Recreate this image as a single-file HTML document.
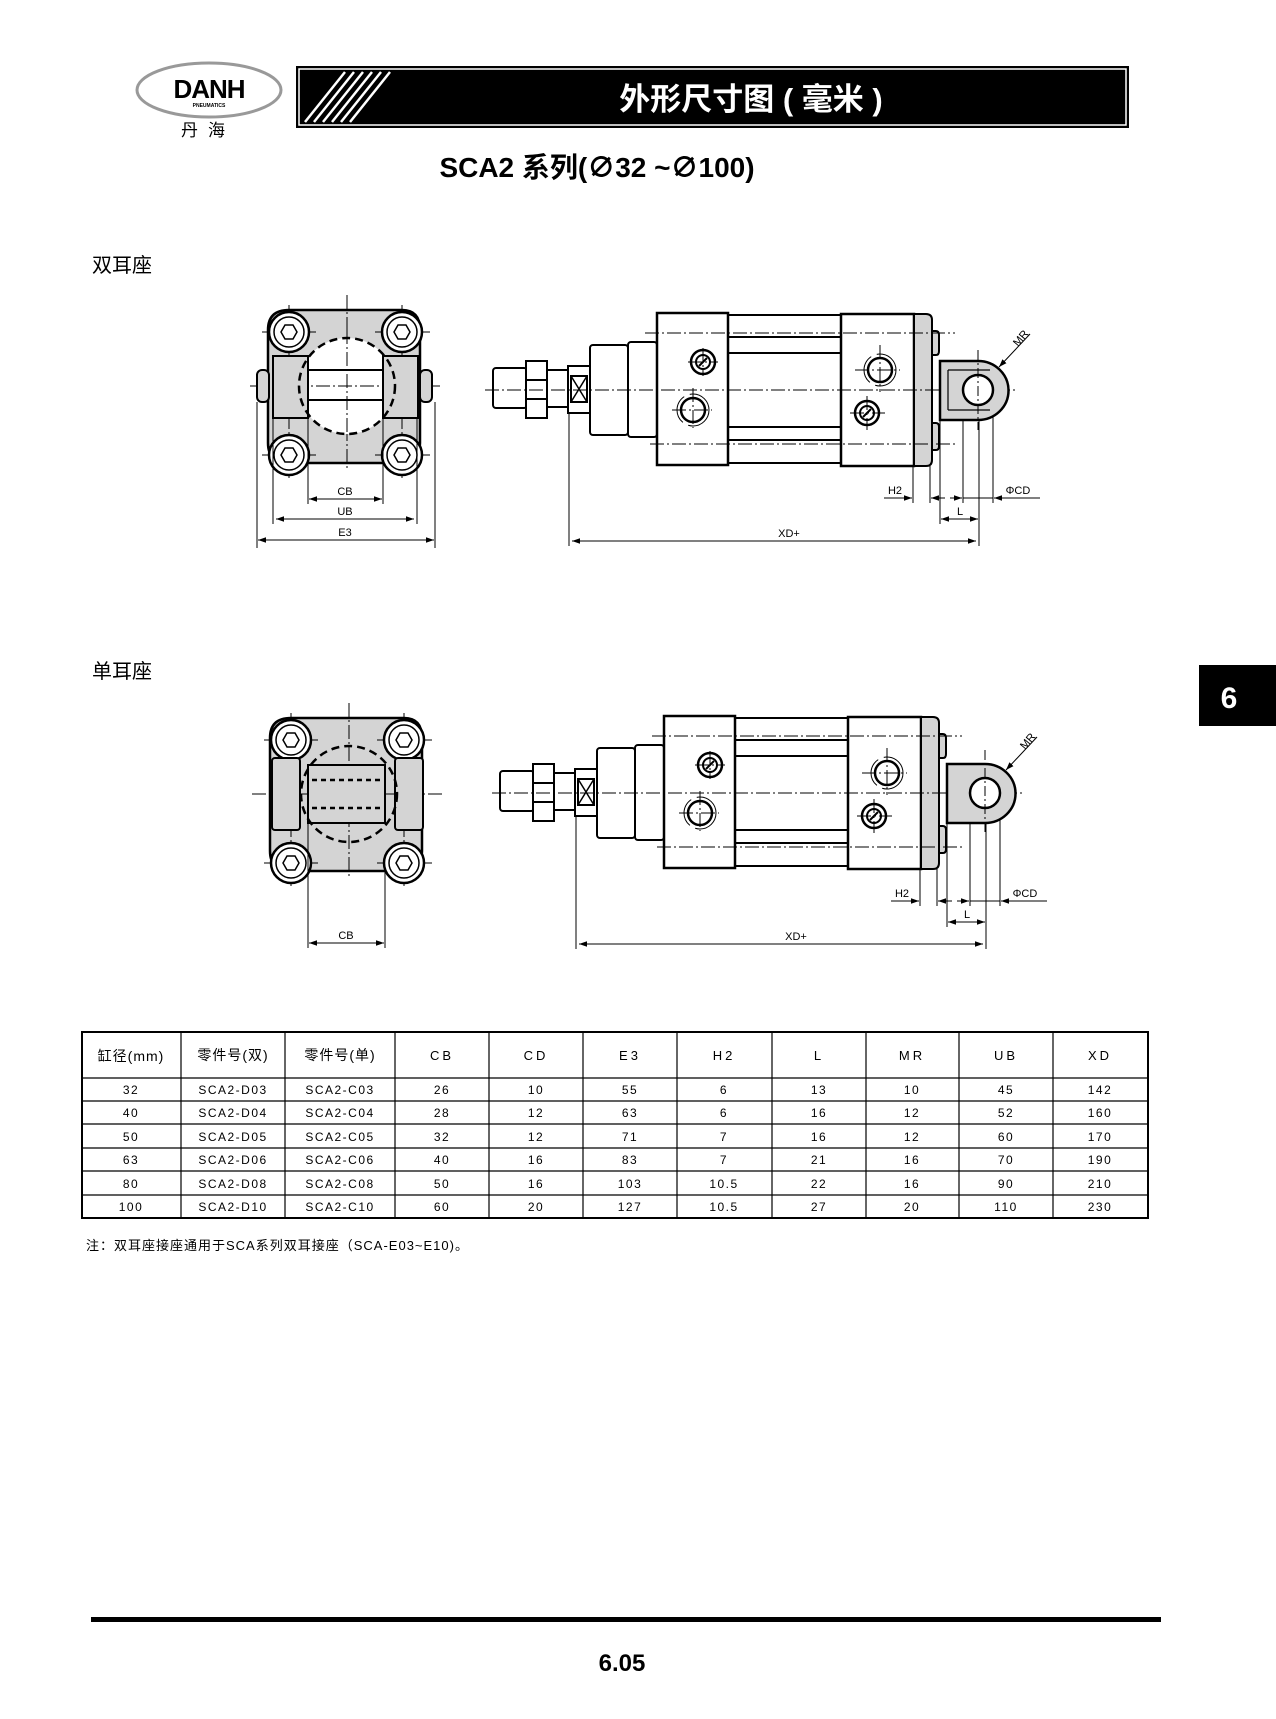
<!DOCTYPE html>
<html><head><meta charset="utf-8"><style>
body{margin:0;background:#fff}
svg{display:block}
text{font-family:"Liberation Sans","Noto Sans CJK SC",sans-serif}
</style></head><body>
<svg width="1276" height="1719" viewBox="0 0 1276 1719" xmlns="http://www.w3.org/2000/svg">
<defs>
<marker id="a" viewBox="0 0 10 10" refX="10" refY="5" markerWidth="8" markerHeight="8" orient="auto-start-reverse"><path d="M0,1.5 L10,5 L0,8.5z" fill="#000"/></marker>
<g id="bolt"><circle r="20" fill="#fff" stroke="#000" stroke-width="2.5"/><circle r="15" fill="none" stroke="#000" stroke-width="1.5"/><polygon points="-8,0 -4,-7 4,-7 8,0 4,7 -4,7" fill="none" stroke="#000" stroke-width="1.5"/></g>
<g id="port1"><circle r="12" fill="#fff" stroke="#000" stroke-width="2.5"/><circle r="16" fill="none" stroke="#000" stroke-width="1" stroke-dasharray="30 6"/></g>
<g id="port2"><circle r="12" fill="#fff" stroke="#000" stroke-width="2.5"/><circle r="7" fill="none" stroke="#000" stroke-width="2"/><line x1="-4" y1="4" x2="4" y2="-4" stroke="#000" stroke-width="2"/></g>
<g id="side">
 <g stroke="#000" fill="#fff" stroke-width="2">
  <rect x="493" y="368" width="34" height="40" rx="3"/>
  <path d="M526,361 h21 l0,57 h-21z"/>
  <line x1="526" y1="380" x2="547" y2="380"/><line x1="526" y1="399" x2="547" y2="399"/>
  <rect x="547" y="370" width="21" height="37"/>
  <rect x="568" y="366" width="22" height="47"/>
  <rect x="571" y="376" width="16" height="26"/>
  <path d="M571,376 L587,402 M587,376 L571,402" stroke-width="1.5"/>
  <rect x="590" y="345" width="38" height="90" rx="3"/>
  <rect x="628" y="342" width="29" height="95" rx="3"/>
  <line x1="728" y1="315" x2="841" y2="315"/><line x1="728" y1="337" x2="841" y2="337"/>
  <line x1="728" y1="353" x2="841" y2="353"/><line x1="728" y1="427" x2="841" y2="427"/>
  <line x1="728" y1="440" x2="841" y2="440"/><line x1="728" y1="463" x2="841" y2="463"/>
  <rect x="657" y="313" width="71" height="152" stroke-width="2.5"/>
  <rect x="841" y="314" width="73" height="152" stroke-width="2.5"/>
  <path d="M932,331 h4 q3,0 3,4 v16 q0,4 -3,4 h-4z M932,423 h4 q3,0 3,4 v19 q0,4 -3,4 h-4z" fill="#d4d4d4"/>
  <path d="M914,314 h12 q6,0 6,6 v140 q0,6 -6,6 h-12z" fill="#d4d4d4"/>
 </g>
 <use href="#port2" x="703" y="362"/><use href="#port1" x="693" y="410"/>
 <use href="#port1" x="880" y="370"/><use href="#port2" x="867" y="413"/>
 <g stroke="#000" stroke-width="1" stroke-dasharray="14 3 2 3" fill="none">
  <line x1="485" y1="390" x2="1015" y2="390"/>
  <line x1="645" y1="333" x2="955" y2="333"/><line x1="650" y1="444" x2="955" y2="444"/>
  <line x1="688" y1="362" x2="718" y2="362"/><line x1="703" y1="348" x2="703" y2="376"/>
  <line x1="672" y1="410" x2="712" y2="410"/><line x1="693" y1="388" x2="693" y2="428"/>
  <line x1="855" y1="370" x2="900" y2="370"/><line x1="880" y1="345" x2="880" y2="392"/>
  <line x1="850" y1="413" x2="885" y2="413"/><line x1="867" y1="396" x2="867" y2="430"/>
 </g>
 <g stroke="#000" stroke-width="1" fill="none">
  <line x1="569" y1="413" x2="569" y2="546"/>
  <line x1="913" y1="466" x2="913" y2="503"/><line x1="930" y1="466" x2="930" y2="503"/>
  <line x1="940" y1="420" x2="940" y2="524"/><line x1="963" y1="400" x2="963" y2="503"/>
  <line x1="979" y1="400" x2="979" y2="546"/><line x1="993" y1="400" x2="993" y2="503"/>
  <line x1="572" y1="541" x2="976" y2="541" marker-start="url(#a)" marker-end="url(#a)"/>
  <line x1="884" y1="498" x2="912" y2="498" marker-end="url(#a)"/>
  <line x1="945" y1="498" x2="931" y2="498" marker-end="url(#a)"/>
  <line x1="950" y1="498" x2="962" y2="498" marker-end="url(#a)"/>
  <line x1="963" y1="498" x2="993" y2="498"/>
  <line x1="1040" y1="498" x2="994" y2="498" marker-end="url(#a)"/>
  <line x1="941" y1="519" x2="978" y2="519" marker-start="url(#a)" marker-end="url(#a)"/>
  <line x1="1030" y1="334" x2="999" y2="367" marker-end="url(#a)"/>
 </g>
 <g font-size="11" fill="#000">
  <text x="789" y="537" text-anchor="middle">XD+</text>
  <text x="895" y="494" text-anchor="middle">H2</text>
  <text x="1018" y="494" text-anchor="middle">ΦCD</text>
  <text x="960" y="515" text-anchor="middle">L</text>
  <text x="1018" y="347" transform="rotate(-50 1018 347)">MR</text>
 </g>
</g>
<g id="front">
 <path d="M268,330 Q268,310 289,310 H402 Q420,310 420,330 V443 Q420,463 402,463 H289 Q268,463 268,443Z" fill="#d4d4d4" stroke="#000" stroke-width="2.5"/>
 <g stroke="#000" stroke-width="1" stroke-dasharray="14 3 2 3">
  <line x1="250" y1="386" x2="442" y2="386"/><line x1="347" y1="295" x2="347" y2="470"/>
  <line x1="262" y1="332" x2="316" y2="332"/><line x1="375" y1="332" x2="430" y2="332"/>
  <line x1="262" y1="455" x2="316" y2="455"/><line x1="375" y1="455" x2="430" y2="455"/>
  <line x1="289" y1="305" x2="289" y2="478"/><line x1="402" y1="305" x2="402" y2="478"/>
 </g>
 <use href="#bolt" x="289" y="332"/><use href="#bolt" x="402" y="332"/>
 <use href="#bolt" x="289" y="455"/><use href="#bolt" x="402" y="455"/>
</g>
</defs>

<!-- header -->
<ellipse cx="209" cy="90" rx="72" ry="27" fill="#fff" stroke="#999" stroke-width="3"/>
<text x="209" y="98" font-size="26" font-weight="bold" text-anchor="middle" fill="#000" letter-spacing="-1">DANH</text>
<text x="209" y="107" font-size="5" font-weight="bold" text-anchor="middle">PNEUMATICS</text>
<text x="208" y="136" font-size="17" text-anchor="middle" font-family="Noto Sans CJK SC" letter-spacing="10">丹海</text>
<rect x="296" y="66" width="833" height="62" fill="#000"/>
<rect x="299" y="69" width="827" height="56" fill="none" stroke="#fff" stroke-width="1.5"/>
<g stroke="#fff" stroke-width="2.5">
 <line x1="305" y1="122" x2="345" y2="72"/><line x1="314" y1="122" x2="354" y2="72"/><line x1="323" y1="122" x2="363" y2="72"/>
 <line x1="332" y1="122" x2="372" y2="72"/><line x1="341" y1="122" x2="381" y2="72"/><line x1="350" y1="122" x2="390" y2="72"/>
</g>
<text x="751" y="110" font-size="31" font-weight="bold" fill="#fff" text-anchor="middle" font-family="Noto Sans CJK SC">外形尺寸图 ( 毫米 )</text>
<text x="597" y="177" font-size="28" font-weight="bold" text-anchor="middle" font-family="Liberation Sans, Noto Sans CJK SC">SCA2 系列(∅32 ~∅100)</text>
<text x="92" y="272" font-size="20" font-family="Noto Sans CJK SC">双耳座</text>
<text x="92" y="678" font-size="20" font-family="Noto Sans CJK SC">单耳座</text>
<rect x="1199" y="665" width="77" height="61" fill="#000"/>
<text x="1229" y="708" font-size="30" font-weight="bold" fill="#fff" text-anchor="middle">6</text>

<!-- front view 1 -->
<use href="#front"/>
<circle cx="347" cy="386" r="48" fill="#fff"/>
<g stroke="#000" stroke-width="1" stroke-dasharray="14 3 2 3"><line x1="250" y1="386" x2="442" y2="386"/><line x1="347" y1="330" x2="347" y2="440"/></g>
<g stroke="#000" stroke-width="2" fill="#d4d4d4">
 <rect x="257" y="370" width="12" height="32" rx="5"/><rect x="420" y="370" width="12" height="32" rx="5"/>
 <rect x="273" y="356" width="35" height="62"/><rect x="383" y="356" width="35" height="62"/>
 <line x1="308" y1="370" x2="383" y2="370"/><line x1="308" y1="400" x2="383" y2="400"/>
</g>
<circle cx="347" cy="386" r="48" fill="none" stroke="#000" stroke-width="2.5" stroke-dasharray="8 5"/>
<g stroke="#000" stroke-width="1" fill="none">
 <line x1="308" y1="418" x2="308" y2="504"/><line x1="383" y1="418" x2="383" y2="504"/>
 <line x1="273" y1="418" x2="273" y2="524"/><line x1="417" y1="418" x2="417" y2="524"/>
 <line x1="257" y1="402" x2="257" y2="548"/><line x1="435" y1="402" x2="435" y2="548"/>
 <line x1="309" y1="499" x2="382" y2="499" marker-start="url(#a)" marker-end="url(#a)"/>
 <line x1="276" y1="519" x2="414" y2="519" marker-start="url(#a)" marker-end="url(#a)"/>
 <line x1="258" y1="540" x2="434" y2="540" marker-start="url(#a)" marker-end="url(#a)"/>
</g>
<g font-size="11" text-anchor="middle"><text x="345" y="495">CB</text><text x="345" y="515">UB</text><text x="345" y="536">E3</text></g>

<!-- side view 1 -->
<use href="#side"/>
<path d="M940,361 H978 A30,29 0 0 1 978,420 H940Z" fill="#d4d4d4" stroke="#000" stroke-width="2.5"/>
<path d="M948,370 H990 M948,410 H990 M948,370 V410" stroke="#000" stroke-width="1.2" fill="none"/>
<circle cx="978" cy="390" r="15" fill="#fff" stroke="#000" stroke-width="2.5"/>
<line x1="978" y1="350" x2="978" y2="430" stroke="#000" stroke-width="1" stroke-dasharray="10 3 2 3"/>

<!-- front view 2 -->
<use href="#front" x="2" y="408"/>
<g stroke="#000" stroke-width="2" fill="#d4d4d4">
 <rect x="272" y="758" width="28" height="72" rx="3"/><rect x="395" y="758" width="28" height="72" rx="3"/>
 <rect x="308" y="765" width="77" height="58"/>
</g>
<circle cx="349" cy="794" r="48" fill="none" stroke="#000" stroke-width="2.5" stroke-dasharray="8 5"/>
<g stroke="#000" stroke-width="2.5" stroke-dasharray="5 4"><line x1="312" y1="780" x2="380" y2="780"/><line x1="312" y1="808" x2="380" y2="808"/></g>
<g stroke="#000" stroke-width="1" fill="none">
 <line x1="308" y1="823" x2="308" y2="948"/><line x1="385" y1="870" x2="385" y2="948"/>
 <line x1="309" y1="943" x2="384" y2="943" marker-start="url(#a)" marker-end="url(#a)"/>
</g>
<text x="346" y="939" font-size="11" text-anchor="middle">CB</text>

<!-- side view 2 -->
<use href="#side" x="7" y="403"/>
<path d="M947,764 H985 A30,29 0 0 1 985,823 H947Z" fill="#d4d4d4" stroke="#000" stroke-width="2.5"/>
<circle cx="985" cy="793" r="15" fill="#fff" stroke="#000" stroke-width="2.5"/>
<line x1="985" y1="750" x2="985" y2="833" stroke="#000" stroke-width="1" stroke-dasharray="10 3 2 3"/>

<!-- table -->
<g stroke="#000" fill="none">
 <rect x="82" y="1032" width="1066" height="186" stroke-width="2"/>
 <g stroke-width="1.2">
  <line x1="82" y1="1078" x2="1148" y2="1078"/><line x1="82" y1="1101" x2="1148" y2="1101"/>
  <line x1="82" y1="1124" x2="1148" y2="1124"/><line x1="82" y1="1148" x2="1148" y2="1148"/>
  <line x1="82" y1="1171" x2="1148" y2="1171"/><line x1="82" y1="1195" x2="1148" y2="1195"/>
  <line x1="181" y1="1032" x2="181" y2="1218"/><line x1="285" y1="1032" x2="285" y2="1218"/>
  <line x1="395" y1="1032" x2="395" y2="1218"/><line x1="489" y1="1032" x2="489" y2="1218"/>
  <line x1="583" y1="1032" x2="583" y2="1218"/><line x1="677" y1="1032" x2="677" y2="1218"/>
  <line x1="772" y1="1032" x2="772" y2="1218"/><line x1="866" y1="1032" x2="866" y2="1218"/>
  <line x1="959" y1="1032" x2="959" y2="1218"/><line x1="1053" y1="1032" x2="1053" y2="1218"/>
 </g>
</g>
<g font-size="14" text-anchor="middle" font-family="Noto Sans CJK SC" letter-spacing="1">
 <text x="131" y="1061">缸径(mm)</text><text x="233" y="1060">零件号(双)</text><text x="340" y="1060">零件号(单)</text>
</g>
<g font-size="13" text-anchor="middle" letter-spacing="3">
 <text x="442" y="1060">CB</text><text x="536" y="1060">CD</text><text x="630" y="1060">E3</text><text x="724" y="1060">H2</text><text x="819" y="1060">L</text><text x="912" y="1060">MR</text><text x="1006" y="1060">UB</text><text x="1100" y="1060">XD</text>
</g>
<g font-size="12" text-anchor="middle" letter-spacing="1.5">
 <text x="131" y="1094">32</text><text x="233" y="1094">SCA2-D03</text><text x="340" y="1094">SCA2-C03</text><text x="442" y="1094">26</text><text x="536" y="1094">10</text><text x="630" y="1094">55</text><text x="724" y="1094">6</text><text x="819" y="1094">13</text><text x="912" y="1094">10</text><text x="1006" y="1094">45</text><text x="1100" y="1094">142</text>
 <text x="131" y="1117">40</text><text x="233" y="1117">SCA2-D04</text><text x="340" y="1117">SCA2-C04</text><text x="442" y="1117">28</text><text x="536" y="1117">12</text><text x="630" y="1117">63</text><text x="724" y="1117">6</text><text x="819" y="1117">16</text><text x="912" y="1117">12</text><text x="1006" y="1117">52</text><text x="1100" y="1117">160</text>
 <text x="131" y="1141">50</text><text x="233" y="1141">SCA2-D05</text><text x="340" y="1141">SCA2-C05</text><text x="442" y="1141">32</text><text x="536" y="1141">12</text><text x="630" y="1141">71</text><text x="724" y="1141">7</text><text x="819" y="1141">16</text><text x="912" y="1141">12</text><text x="1006" y="1141">60</text><text x="1100" y="1141">170</text>
 <text x="131" y="1164">63</text><text x="233" y="1164">SCA2-D06</text><text x="340" y="1164">SCA2-C06</text><text x="442" y="1164">40</text><text x="536" y="1164">16</text><text x="630" y="1164">83</text><text x="724" y="1164">7</text><text x="819" y="1164">21</text><text x="912" y="1164">16</text><text x="1006" y="1164">70</text><text x="1100" y="1164">190</text>
 <text x="131" y="1188">80</text><text x="233" y="1188">SCA2-D08</text><text x="340" y="1188">SCA2-C08</text><text x="442" y="1188">50</text><text x="536" y="1188">16</text><text x="630" y="1188">103</text><text x="724" y="1188">10.5</text><text x="819" y="1188">22</text><text x="912" y="1188">16</text><text x="1006" y="1188">90</text><text x="1100" y="1188">210</text>
 <text x="131" y="1211">100</text><text x="233" y="1211">SCA2-D10</text><text x="340" y="1211">SCA2-C10</text><text x="442" y="1211">60</text><text x="536" y="1211">20</text><text x="630" y="1211">127</text><text x="724" y="1211">10.5</text><text x="819" y="1211">27</text><text x="912" y="1211">20</text><text x="1006" y="1211">110</text><text x="1100" y="1211">230</text>
</g>
<text x="86" y="1250" font-size="13" font-family="Noto Sans CJK SC" letter-spacing="1">注：双耳座接座通用于SCA系列双耳接座（SCA-E03~E10)。</text>

<rect x="91" y="1617" width="1070" height="5" fill="#000"/>
<text x="622" y="1671" font-size="24" font-weight="bold" text-anchor="middle">6.05</text>
</svg>
</body></html>
